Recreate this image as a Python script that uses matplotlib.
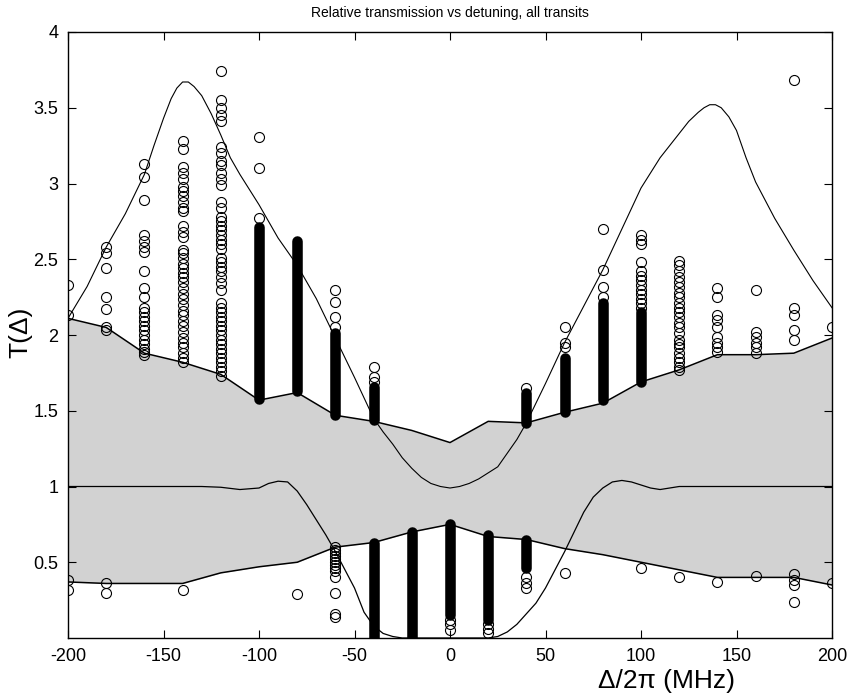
import numpy as np
import matplotlib
matplotlib.use("Agg")
import matplotlib.pyplot as plt

plt.rcParams['font.family'] = ['Liberation Sans', 'DejaVu Sans']
plt.rcParams['axes.unicode_minus'] = False

# Detuning columns (MHz) and the transmission of each transit that was seen there
detuning = [-200, -180, -160, -140, -120, -100, -80, -60, -40, -20, 0,
            20, 40, 60, 80, 100, 120, 140, 160, 180, 200]
transit_T = [
    [2.33, 2.13, 0.38, 0.32],
    [2.58, 2.54, 2.44, 2.25, 2.17, 2.05, 2.03, 0.36, 0.30],
    [3.13, 3.04, 2.89, 2.66, 2.62, 2.58, 2.55, 2.42, 2.31, 2.25, 2.18, 2.15,
     2.12, 2.09, 2.06, 2.03, 2.00, 1.97, 1.94, 1.91, 1.89, 1.87],
    [3.28, 3.23, 3.11, 3.07, 3.03, 2.98, 2.95, 2.92, 2.88, 2.84, 2.82, 2.72,
     2.68, 2.65, 2.56, 2.54, 2.51, 2.47, 2.44, 2.41, 2.38, 2.35, 2.31, 2.27,
     2.24, 2.20, 2.16, 2.13, 2.09, 2.06, 2.02, 1.98, 1.95, 1.92, 1.88, 1.85,
     1.82, 0.32],
    [3.74, 3.55, 3.50, 3.45, 3.41, 3.24, 3.20, 3.15, 3.12, 3.07, 3.03, 2.99,
     2.88, 2.84, 2.78, 2.75, 2.72, 2.69, 2.66, 2.63, 2.60, 2.57, 2.51, 2.48,
     2.45, 2.42, 2.38, 2.34, 2.30, 2.21, 2.18, 2.15, 2.12, 2.09, 2.06, 2.03,
     2.00, 1.97, 1.94, 1.91, 1.88, 1.85, 1.82, 1.79, 1.76, 1.73],
    [3.31, 3.10, 2.77],
    [0.29],
    [2.30, 2.22, 2.12, 2.05, 0.60, 0.58, 0.56, 0.54, 0.52, 0.50, 0.48, 0.46,
     0.44, 0.40, 0.30, 0.16, 0.14],
    [1.79, 1.72, 1.69],
    [],
    [0.12, 0.09, 0.05],
    [0.09, 0.06, 0.03],
    [1.65, 0.40, 0.36, 0.33],
    [2.05, 1.95, 1.92, 0.43],
    [2.70, 2.43, 2.32, 2.25],
    [2.66, 2.63, 2.60, 2.48, 2.42, 2.39, 2.36, 2.33, 2.30, 2.27, 2.24, 2.21,
     2.18, 0.46],
    [2.49, 2.46, 2.42, 2.38, 2.35, 2.32, 2.28, 2.25, 2.21, 2.18, 2.15, 2.12,
     2.08, 2.05, 2.01, 1.97, 1.94, 1.92, 1.88, 1.85, 1.82, 1.79, 1.77, 0.40],
    [2.31, 2.25, 2.13, 2.10, 2.05, 1.99, 1.95, 1.92, 1.89, 0.37],
    [2.30, 2.02, 1.99, 1.95, 1.92, 1.88, 0.41],
    [3.68, 2.18, 2.13, 2.03, 1.97, 0.42, 0.38, 0.35, 0.24],
    [2.05, 0.36],
]

# stretches where the circles overlap into a solid column (detuning, low, high)
run_x = [-100, -80, -60, -40, -40, -20, 0, 20, 40, 40, 60, 80, 100]
run_lo = [1.58, 1.63, 1.47, 1.44, 0.00, 0.00, 0.15, 0.12, 1.42, 0.46, 1.49, 1.57, 1.69]
run_hi = [2.71, 2.62, 2.01, 1.66, 0.63, 0.70, 0.75, 0.68, 1.62, 0.65, 1.85, 2.21, 2.15]

# shaded band
band_x = [-200, -180, -160, -140, -120, -100, -80, -60, -40, -20, 0,
          20, 40, 60, 80, 100, 120, 140, 160, 180, 200]
band_hi = [2.11, 2.05, 1.88, 1.82, 1.74, 1.57, 1.62, 1.47, 1.43, 1.37, 1.29,
           1.43, 1.42, 1.49, 1.55, 1.69, 1.77, 1.87, 1.87, 1.88, 1.98]
band_lo = [0.37, 0.36, 0.36, 0.36, 0.43, 0.47, 0.50, 0.60, 0.63, 0.70, 0.75,
           0.67, 0.65, 0.59, 0.55, 0.50, 0.45, 0.40, 0.40, 0.40, 0.35]

# theory curves
theory_a_x = [-200, -190, -180, -170, -160, -155, -150, -146, -143, -140, -137,
              -134, -130, -125, -120, -115, -110, -100, -90, -80, -70, -60, -50,
              -40, -35, -30, -25, -20, -15, -10, -5, 0, 5, 10, 15, 20, 25, 30,
              35, 40, 50, 60, 70, 80, 90, 100, 110, 120, 125, 130, 133, 136,
              139, 142, 146, 150, 155, 160, 170, 180, 190, 200]
theory_a = [2.11, 2.32, 2.58, 2.80, 3.06, 3.25, 3.43, 3.56, 3.63, 3.67, 3.67,
            3.64, 3.58, 3.46, 3.32, 3.17, 3.06, 2.86, 2.64, 2.46, 2.24, 1.98, 1.72,
            1.45, 1.36, 1.28, 1.19, 1.12, 1.06, 1.02, 1.00, 0.99, 1.00, 1.02, 1.05,
            1.09, 1.13, 1.22, 1.31, 1.42, 1.68, 1.95, 2.19, 2.43, 2.70, 2.97, 3.17,
            3.33, 3.41, 3.47, 3.50, 3.52, 3.52, 3.50, 3.44, 3.35, 3.17, 3.01, 2.77,
            2.56, 2.36, 2.18]
theory_b_x = [-200, -130, -120, -110, -100, -95, -90, -85, -80, -75, -70, -65,
              -60, -55, -50, -45, -40, -35, -30, -25, 20, 25, 30, 35, 40, 45,
              50, 55, 60, 65, 70, 75, 80, 85, 90, 95, 100, 105, 110, 120, 200]
theory_b = [1.00, 1.00, 0.995, 0.98, 0.99, 1.02, 1.035, 1.03, 0.97, 0.88, 0.78,
            0.68, 0.57, 0.45, 0.33, 0.17, 0.08, 0.03, 0.01, 0.0, 0.0, 0.01, 0.04,
            0.09, 0.16, 0.23, 0.33, 0.45, 0.57, 0.70, 0.83, 0.93, 0.99, 1.03,
            1.04, 1.03, 1.01, 0.99, 0.98, 1.00, 1.00]

fig = plt.figure(figsize=(8.48, 7.0), dpi=100)
ax = fig.add_axes([68 / 848, 62 / 700, 764 / 848, 606 / 700])

ax.fill_between(band_x, band_lo, band_hi, color='#d2d2d2', lw=0, zorder=1)
ax.plot(band_x, band_hi, color='k', lw=1.1, zorder=2)
ax.plot(band_x, band_lo, color='k', lw=1.1, zorder=2)

for x, lo, hi in zip(run_x, run_lo, run_hi):
    ax.plot([x, x], [lo, hi], color='k', lw=7.6, solid_capstyle='round', zorder=3)

for x, ys in zip(detuning, transit_T):
    ax.plot([x] * len(ys), ys, 'o', ms=7.2, mfc='none', mec='k', mew=0.8, zorder=3)

ax.plot(theory_a_x, theory_a, color='k', lw=0.8, zorder=4)
ax.plot(theory_b_x, theory_b, color='k', lw=0.9, zorder=4)

ax.set_xlim(-200, 200)
ax.set_ylim(0, 4)
ax.set_xticks(np.arange(-200, 201, 50))
ax.set_yticks(np.arange(0.5, 4.01, 0.5))
ax.set_yticklabels(['0.5', '1', '1.5', '2', '2.5', '3', '3.5', '4'])
ax.tick_params(direction='in', top=True, right=True, length=6, width=0.8,
               labelsize=13, pad=7)
for s in ax.spines.values():
    s.set_linewidth(1.0)

fig.text(450 / 848, 1 - 13 / 700, 'Relative transmission vs detuning, all transits',
         ha='center', va='center', fontsize=10)
fig.text(666 / 848, 1 - 681 / 700, 'Δ/2π (MHz)', ha='center', va='center', fontsize=19)
fig.text(20 / 848, 1 - 332 / 700, 'T(Δ)', ha='center', va='center', fontsize=19,
         rotation=90)

fig.savefig('out.png', dpi=100)
